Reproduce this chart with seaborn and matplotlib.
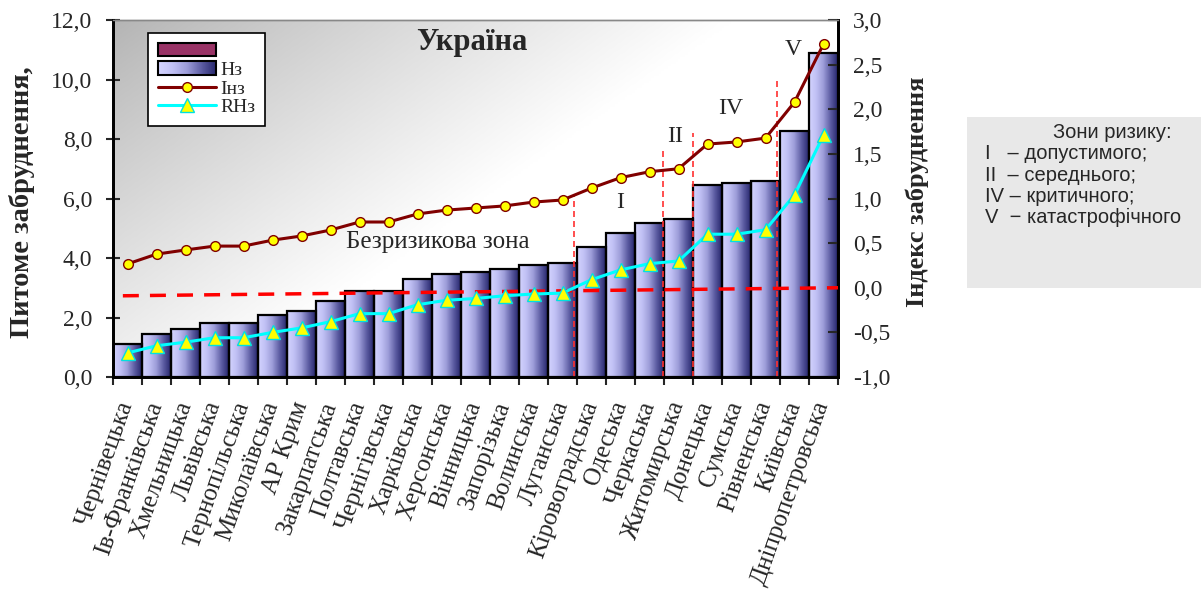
import numpy as np
import pandas as pd
import seaborn as sns
import matplotlib.pyplot as plt
from matplotlib.colors import LinearSegmentedColormap
from matplotlib.patches import Patch, Rectangle
from matplotlib.lines import Line2D
from matplotlib.legend_handler import HandlerPatch
from matplotlib.image import BboxImage
from matplotlib.transforms import Bbox, TransformedBbox

# дані по областях
regions = ["Чернівецька", "Ів-Франківська", "Хмельницька", "Львівська", "Тернопільська",
           "Миколаївська", "АР Крим", "Закарпатська", "Полтавська", "Чернігівська",
           "Харківська", "Херсонська", "Вінницька", "Запорізька", "Волинська",
           "Луганська", "Кіровоградська", "Одеська", "Черкаська", "Житомирська",
           "Донецька", "Сумська", "Рівненська", "Київська", "Дніпропетровська"]
nz = [1.1, 1.44, 1.61, 1.8, 1.8, 2.08, 2.21, 2.55, 2.89, 2.89, 3.3, 3.46, 3.53,
      3.63, 3.76, 3.83, 4.37, 4.84, 5.17, 5.3, 6.45, 6.52, 6.59, 8.27, 10.9]
inz = [3.8, 4.13, 4.27, 4.4, 4.4, 4.6, 4.74, 4.94, 5.21, 5.21, 5.48, 5.61, 5.68,
       5.75, 5.88, 5.95, 6.35, 6.7, 6.9, 7.0, 7.83, 7.9, 8.03, 9.24, 11.19]
rnz = [-0.73, -0.65, -0.61, -0.56, -0.56, -0.5, -0.45, -0.38, -0.29, -0.29, -0.19,
       -0.14, -0.12, -0.09, -0.07, -0.06, 0.09, 0.2, 0.27, 0.3, 0.6, 0.6, 0.65, 1.04, 1.71]

left_ticks = [0, 2, 4, 6, 8, 10, 12]
left_labels = ["0,0", "2,0", "4,0", "6,0", "8,0", "10,0", "12,0"]
right_ticks = [-1, -0.5, 0, 0.5, 1, 1.5, 2, 2.5, 3]
right_labels = ["-1,0", "-0,5", "0,0", "0,5", "1,0", "1,5", "2,0", "2,5", "3,0"]

# межі зон ризику
zone_x = [15.4, 18.45, 19.5, 22.4]
zone_top = [6.1, 7.73, 8.2, 10.05]
zone_names = ["I", "II", "IV", "V"]
zone_lx = [16.98, 18.88, 20.78, 22.95]
zone_ly = [5.85, 8.07, 9.04, 11.0]
# лінія безризикового рівня (права вісь)
safe_x = [-0.16, 24.5]
safe_y = [-0.09, 0.0]

box_lines = ["I   – допустимого;", "II  – середнього;", "IV – критичного;", "V  − катастрофічного"]

sns.set_style("ticks")
plt.rcParams['font.family'] = ['Liberation Serif', 'DejaVu Serif']

fig = plt.figure(figsize=(12.01, 6.0), dpi=100)
ax = fig.add_axes([113/1201, 223/600, 725/1201, 357/600])

# фон з градієнтом
u, v = np.meshgrid(np.linspace(0, 1, 300), np.linspace(0, 1, 150))
t = np.clip((u*725 + v*357*1.4)/620, 0, 1) ** 0.9
bg_cmap = LinearSegmentedColormap.from_list("bg", ["#b4b4b4", "#ffffff"])
ax.imshow(t, cmap=bg_cmap, extent=[0, 1, 0, 1], origin='upper', transform=ax.transAxes,
          aspect='auto', zorder=0, interpolation='bilinear')

df = pd.DataFrame({"region": regions, "nz": nz})
sns.barplot(data=df, x="region", y="nz", ax=ax, width=1.0, color="white", zorder=2)

bar_cmap = LinearSegmentedColormap.from_list("bar", ["#d4d4ff", "#c0c0f4", "#9c9cd8", "#5c5ca2", "#26266c"])
grad = np.linspace(0, 1, 128).reshape(1, -1)
bars = list(ax.patches)
for p in bars:
    x0, w, h = p.get_x(), p.get_width(), p.get_height()
    im = ax.imshow(grad, cmap=bar_cmap, extent=[x0, x0 + w, 0, h], aspect='auto',
                   zorder=1.5, interpolation='bilinear')
    im.set_clip_path(p)
    p.set_facecolor('none')
    p.set_edgecolor('black')
    p.set_linewidth(1.6)
    p.set_zorder(2)

xs = np.arange(len(regions))
sns.lineplot(x=xs, y=inz, ax=ax, color="#800000", linewidth=2.2, marker="o", markersize=7,
             markerfacecolor="#ffff00", markeredgecolor="#800000", markeredgewidth=1, zorder=5)

ax2 = ax.twinx()
ax2.plot(safe_x, safe_y, color="#ff0000", linewidth=2.5, dashes=(4.6, 3.2), zorder=3)
sns.lineplot(x=xs, y=rnz, ax=ax2, color="#00ffff", linewidth=2.2, marker="^", markersize=10,
             markerfacecolor="#ffff00", markeredgecolor="#00e0e0", markeredgewidth=1, zorder=5)

for zx, zt in zip(zone_x, zone_top):
    ax.plot([zx, zx], [0, zt], color="#ff3030", linewidth=1.2, dashes=(3.6, 2.4), zorder=4)
for name, lx, ly in zip(zone_names, zone_lx, zone_ly):
    ax.text(lx, ly, name, fontsize=17, ha='center', va='center', zorder=6)

ax.text(10.7, 4.54, "Безризикова зона", fontsize=18, ha='center', va='center', zorder=6)
ax.text(11.88, 11.26, "Україна", fontsize=22, fontweight='bold', ha='center', va='center', zorder=6)

# осі
ax.set_xlim(-0.5, 24.5)
ax.set_ylim(0, 12)
ax2.set_ylim(-1, 3)
ax.set_yticks(left_ticks)
ax.set_yticklabels(left_labels, fontsize=17)
ax2.set_yticks(right_ticks)
ax2.set_yticklabels(right_labels, fontsize=17)
ax.tick_params(axis='y', direction='inout', length=10, width=1.5, pad=10)
ax2.tick_params(axis='y', direction='in', length=7, width=1.5, pad=11)

ax.set_xticks(xs)
ax.set_xticklabels(regions, rotation=70.5, ha='right', va='center', rotation_mode='anchor', fontsize=18)
ax.set_xticks(np.arange(-0.5, 25, 1), minor=True)
ax.tick_params(axis='x', which='major', length=0, pad=18)
ax.tick_params(axis='x', which='minor', direction='out', length=6, width=1.5)
ax.set_xlabel("")

ax.set_ylabel("Питоме забруднення,", fontsize=20.5, fontweight='bold', ha='center', va='center')
ax.yaxis.set_label_coords((22 - 113)/725, (377 - 202)/357)
ax2.set_ylabel("Індекс забруднення", fontsize=19, fontweight='bold', ha='center', va='center')
ax2.yaxis.set_label_coords((917 - 113)/725, (377 - 192)/357)

for a in (ax, ax2):
    a.spines['top'].set_color('#888888')
    a.spines['top'].set_linewidth(1)
    a.spines['left'].set_linewidth(2)
    a.spines['left'].set_color('black')
    a.spines['right'].set_linewidth(2)
    a.spines['right'].set_color('black')
    a.spines['bottom'].set_linewidth(2)
    a.spines['bottom'].set_color('black')


# легенда з градієнтом для стовпців
class GradHandler(HandlerPatch):
    def create_artists(self, legend, orig_handle, xdescent, ydescent, width, height, fontsize, trans):
        bb = Bbox.from_bounds(-xdescent, -ydescent, width, height)
        img = BboxImage(TransformedBbox(bb, trans), cmap=bar_cmap, interpolation='bilinear')
        img.set_data(np.linspace(0, 1, 64).reshape(1, -1))
        rect = Rectangle((-xdescent, -ydescent), width, height, facecolor='none',
                         edgecolor='black', linewidth=1.5, transform=trans)
        return [img, rect]


h_empty = Patch(facecolor="#993366", edgecolor="black", linewidth=1.5)
h_nz = Patch(facecolor="#9a9ad6", edgecolor="black")
h_inz = Line2D([], [], color="#800000", linewidth=2.2, marker="o", markersize=7,
               markerfacecolor="#ffff00", markeredgecolor="#800000")
h_rnz = Line2D([], [], color="#00ffff", linewidth=2.2, marker="^", markersize=10,
               markerfacecolor="#ffff00", markeredgecolor="#00e0e0")
leg = ax2.legend([h_empty, h_nz, h_inz, h_rnz], ["", "Нз", "Iнз", "RНз"],
                 handler_map={h_nz: GradHandler()},
                 loc='upper left', bbox_to_anchor=((148 - 113)/725, (377 - 33)/357),
                 borderaxespad=0, fontsize=14, labelspacing=0.05, handlelength=3.0,
                 handleheight=0.7, borderpad=0.5, handletextpad=0.2,
                 fancybox=False, framealpha=1, edgecolor='black')
leg.get_frame().set_linewidth(1.2)

# блок із зонами ризику
fig.patches.append(Rectangle((967/1201, (600 - 288)/600), (1201 - 967)/1201, (288 - 117)/600,
                             transform=fig.transFigure, facecolor="#e8e8e8", edgecolor='none'))
fig.text(1112/1201, 1 - 133/600, "Зони ризику:", fontsize=14.5, family='Liberation Sans',
         ha='center', va='center')
for i, line in enumerate(box_lines):
    fig.text(985/1201, 1 - (154 + 21*i)/600, line, fontsize=14.5, family='Liberation Sans',
             ha='left', va='center')

fig.savefig("out.png", dpi=100)
